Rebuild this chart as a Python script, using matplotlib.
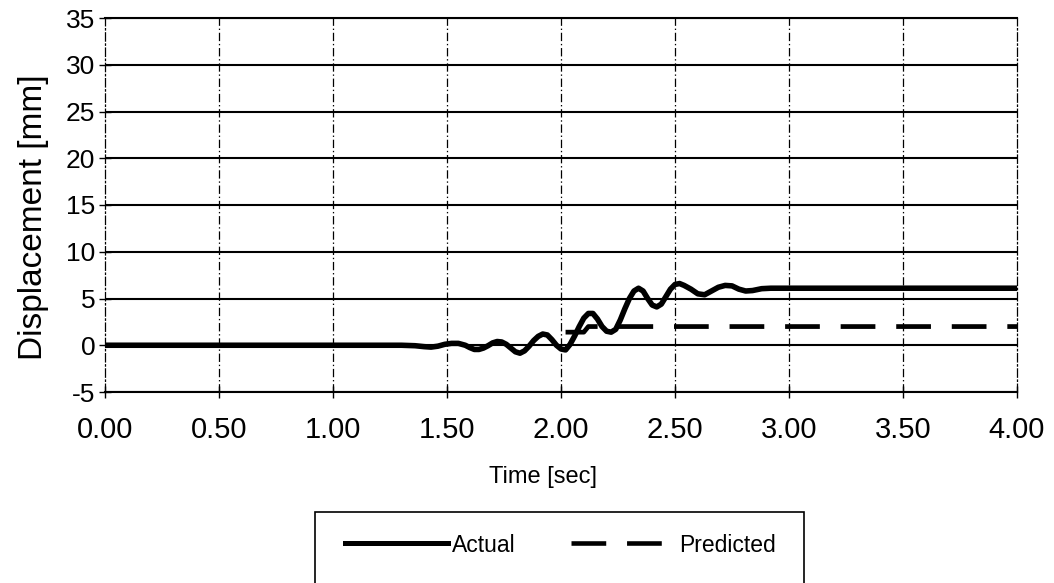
import matplotlib
matplotlib.use("Agg")
import matplotlib.pyplot as plt
from matplotlib.lines import Line2D
from matplotlib.patches import Rectangle

plt.rcParams['font.family'] = ['Liberation Sans', 'DejaVu Sans']
plt.rcParams['lines.scale_dashes'] = False

# ---- data ----
actual_t = [0.00, 0.50, 1.00, 1.20, 1.30, 1.36, 1.40, 1.43, 1.46, 1.49, 1.52, 1.55, 1.58,
            1.60, 1.62, 1.64, 1.66, 1.68, 1.70, 1.72, 1.74, 1.76, 1.78, 1.80, 1.82,
            1.84, 1.86, 1.88, 1.90, 1.92, 1.94, 1.96, 1.98, 2.00, 2.02, 2.04, 2.06,
            2.08, 2.10, 2.12, 2.14, 2.16, 2.18, 2.20, 2.22, 2.24, 2.26, 2.28, 2.30,
            2.32, 2.34, 2.36, 2.38, 2.40, 2.42, 2.44, 2.46, 2.48, 2.50, 2.52, 2.54,
            2.57, 2.60, 2.63, 2.66, 2.69, 2.72, 2.75, 2.78, 2.81, 2.84, 2.88, 2.92,
            3.00, 3.50, 4.00]
actual_y = [0.0, 0.0, 0.0, 0.0, 0.0, -0.05, -0.15, -0.2, -0.1, 0.1, 0.2, 0.2, 0.0,
            -0.25, -0.45, -0.45, -0.3, -0.05, 0.25, 0.4, 0.35, 0.1, -0.3, -0.7, -0.85,
            -0.6, -0.1, 0.5, 0.95, 1.2, 1.1, 0.6, 0.0, -0.4, -0.5, 0.1, 1.0,
            2.0, 2.9, 3.4, 3.4, 2.8, 2.0, 1.5, 1.4, 1.7, 2.7, 3.9, 5.0,
            5.8, 6.1, 5.8, 5.0, 4.3, 4.1, 4.4, 5.2, 6.0, 6.5, 6.6, 6.4,
            6.0, 5.5, 5.4, 5.8, 6.2, 6.4, 6.35, 6.0, 5.8, 5.85, 6.05, 6.1,
            6.1, 6.1, 6.1]

predicted_t = [2.02, 2.10, 2.12, 4.00]
predicted_y = [1.4, 1.4, 2.0, 2.0]

x_ticks = [0.0, 0.5, 1.0, 1.5, 2.0, 2.5, 3.0, 3.5, 4.0]
x_tick_labels = ["0.00", "0.50", "1.00", "1.50", "2.00", "2.50", "3.00", "3.50", "4.00"]
y_ticks = [-5, 0, 5, 10, 15, 20, 25, 30, 35]
y_tick_labels = ["-5", "0", "5", "10", "15", "20", "25", "30", "35"]

series_names = ["Actual", "Predicted"]

# ---- figure ----
W, H = 1054, 583
fig = plt.figure(figsize=(W / 100, H / 100), dpi=100)
L, R, T, B = 105, 1017, 18, 392
ax = fig.add_axes([L / W, (H - B) / H, (R - L) / W, (B - T) / H])

ax.set_xlim(0, 4)
ax.set_ylim(-5, 35)

# grid: solid horizontal, dashed vertical
for yv in y_ticks:
    ax.axhline(yv, color='black', lw=1.5, zorder=1)
for xv in x_ticks[1:-1]:
    ax.axvline(xv, color='black', lw=0.9, ls=(0, (6, 2, 1, 2)), zorder=1)

for s in ['left', 'right']:
    ax.spines[s].set_linestyle((0, (6, 2, 1, 2)))
    ax.spines[s].set_linewidth(0.9)
for s in ['top', 'bottom']:
    ax.spines[s].set_linewidth(1.5)

ax.plot(actual_t, actual_y, color='black', lw=4.0, solid_joinstyle='round',
        solid_capstyle='round', zorder=3, label=series_names[0])
ax.plot(predicted_t, predicted_y, color='black', lw=3.4, dashes=(25, 15),
        dash_capstyle='butt', zorder=3, label=series_names[1])

ax.set_xticks(x_ticks)
ax.set_xticklabels(x_tick_labels, fontsize=21)
ax.set_yticks(y_ticks)
ax.set_yticklabels(y_tick_labels, fontsize=19)
ax.tick_params(axis='x', direction='inout', length=8, width=1, pad=13)
ax.tick_params(axis='y', direction='inout', length=8, width=1, pad=3)

fig.text(543 / W, 1 - 477 / H, "Time [sec]", fontsize=17, ha='center', va='center')
fig.text(34 / W, 1 - 217 / H, "Displacement [mm]", fontsize=24, rotation=90,
         ha='center', va='center')

# legend
handles = [Line2D([], [], color='black', lw=3.6),
           Line2D([], [], color='black', lw=3.3, dashes=(25, 15))]
fig.legend(handles, series_names, loc='center', bbox_to_anchor=(560 / W, 1 - 545 / H),
           ncol=2, frameon=False, fontsize=16.5, handlelength=4.5,
           handletextpad=0.2, columnspacing=2.4)
fig.patches.append(Rectangle((315 / W, -0.05), (804 - 315) / W, (H - 512) / H + 0.05,
                             transform=fig.transFigure, fill=False, edgecolor='black',
                             lw=1.2))

fig.savefig("out.png", dpi=100)
